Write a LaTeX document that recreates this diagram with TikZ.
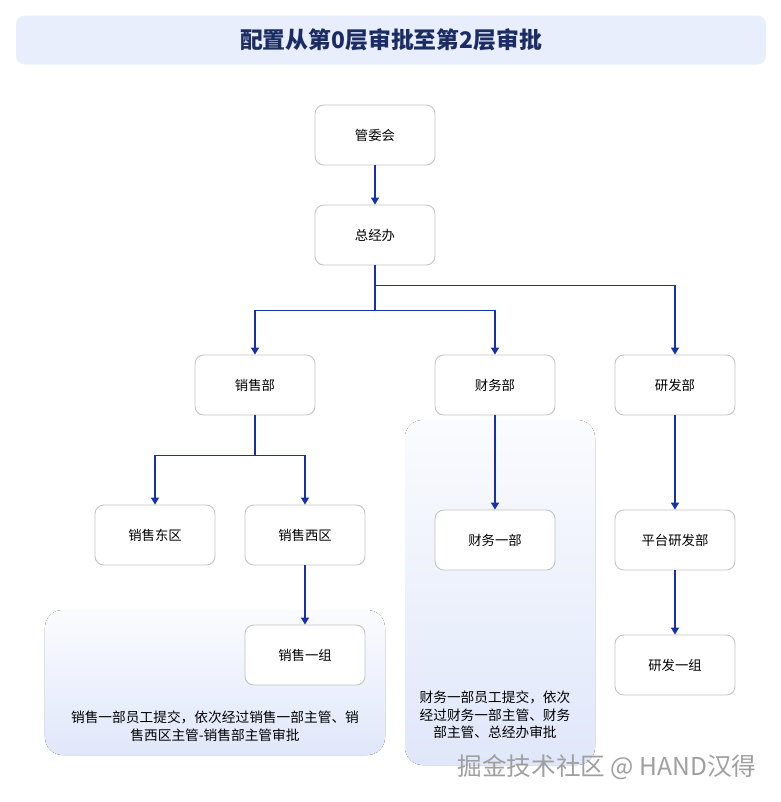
\documentclass[tikz,border=0pt]{standalone}
\usepackage{fontspec}
\setmainfont{Noto Sans CJK SC}
\usepackage{tikz}
\usetikzlibrary{arrows.meta, positioning}
\usepackage{xcolor}
\definecolor{linkblue}{RGB}{24,48,170}
\definecolor{titlebg}{RGB}{232,238,251}
\definecolor{titlefg}{RGB}{27,44,100}
\definecolor{panelbg}{RGB}{224,231,250}
\definecolor{boxline}{RGB}{195,195,195}

\begin{document}
\begin{tikzpicture}[
    unit/.style={rectangle, rounded corners=5pt, draw=boxline, fill=white,
                 line width=0.5pt, minimum width=2.4cm, minimum height=1.2cm,
                 align=center, font=\fontsize{7.6pt}{9pt}\selectfont},
    panel/.style={rectangle, rounded corners=10pt, draw=none,
                  top color=panelbg!15, bottom color=panelbg},
    note/.style={align=center, font=\fontsize{7.8pt}{10pt}\selectfont},
    arr/.style={-{Triangle[length=4pt, width=4.6pt]}, line width=0.8pt, linkblue},
]
  \useasboundingbox (0,0) rectangle (15.62,-16.04);

  % Title
  \node[rectangle, rounded corners=5pt, fill=titlebg,
        minimum width=15cm, minimum height=0.98cm,
        font=\fontsize{13pt}{15pt}\selectfont\bfseries, text=titlefg]
        (title) at (7.82, -0.8) {配置从第0层审批至第2层审批};

  % Notes behind the lower rows
  \fill[panel] (0.9, -12.2) rectangle (7.7, -15.1);
  \fill[panel] (8.1, -8.4) rectangle (11.9, -15.3);

  % Levels 0 and 1
  \node[unit] (gwh) at (7.5, -2.7) {管委会};
  \node[unit] (zjb) at (7.5, -4.7) {总经办};

  % Departments
  \node[unit] (xsb) at ( 5.1, -7.7) {销售部};
  \node[unit] (cwb) at ( 9.9, -7.7) {财务部};
  \node[unit] (yfb) at (13.5, -7.7) {研发部};

  % Sub units
  \node[unit] (xsdq) at ( 3.1, -10.7) {销售东区};
  \node[unit] (xsxq) at ( 6.1, -10.7) {销售西区};
  \node[unit] (cwyb) at ( 9.9, -10.8) {财务一部};
  \node[unit] (ptyf) at (13.5, -10.8) {平台研发部};
  \node[unit] (xsyz) at ( 6.1, -13.1) {销售一组};
  \node[unit] (yfyz) at (13.5, -13.3) {研发一组};

  \draw[arr] (gwh.south) -- (zjb.north);
  \draw[arr] (zjb.south) -- ++(0,-0.4) -| (yfb.north);
  \draw[arr] (zjb.south) -- ++(0,-0.9) -| (xsb.north);
  \draw[arr] (zjb.south) -- ++(0,-0.9) -| (cwb.north);
  \draw[arr] (xsb.south) -- ++(0,-0.8) -| (xsdq.north);
  \draw[arr] (xsb.south) -- ++(0,-0.8) -| (xsxq.north);
  \draw[arr] (cwb.south) -- (cwyb.north);
  \draw[arr] (yfb.south) -- (ptyf.north);
  \draw[arr] (xsxq.south) -- (xsyz.north);
  \draw[arr] (ptyf.south) -- (yfyz.north);

  % Notes
  \node[note] (xsnote) at (4.3, -14.53)
    {销售一部员工提交，依次经过销售一部主管、销\\售西区主管-销售部主管审批};
  \node[note] (cwnote) at (9.9, -14.3)
    {财务一部员工提交，依次\\经过财务一部主管、财务\\部主管、总经办审批};

  % Watermark
  \node[font=\fontsize{14pt}{16pt}\selectfont, text=gray!75]
    (mark) at (12.14, -15.34) {掘金技术社区 @ HAND汉得};

\end{tikzpicture}
\end{document}
